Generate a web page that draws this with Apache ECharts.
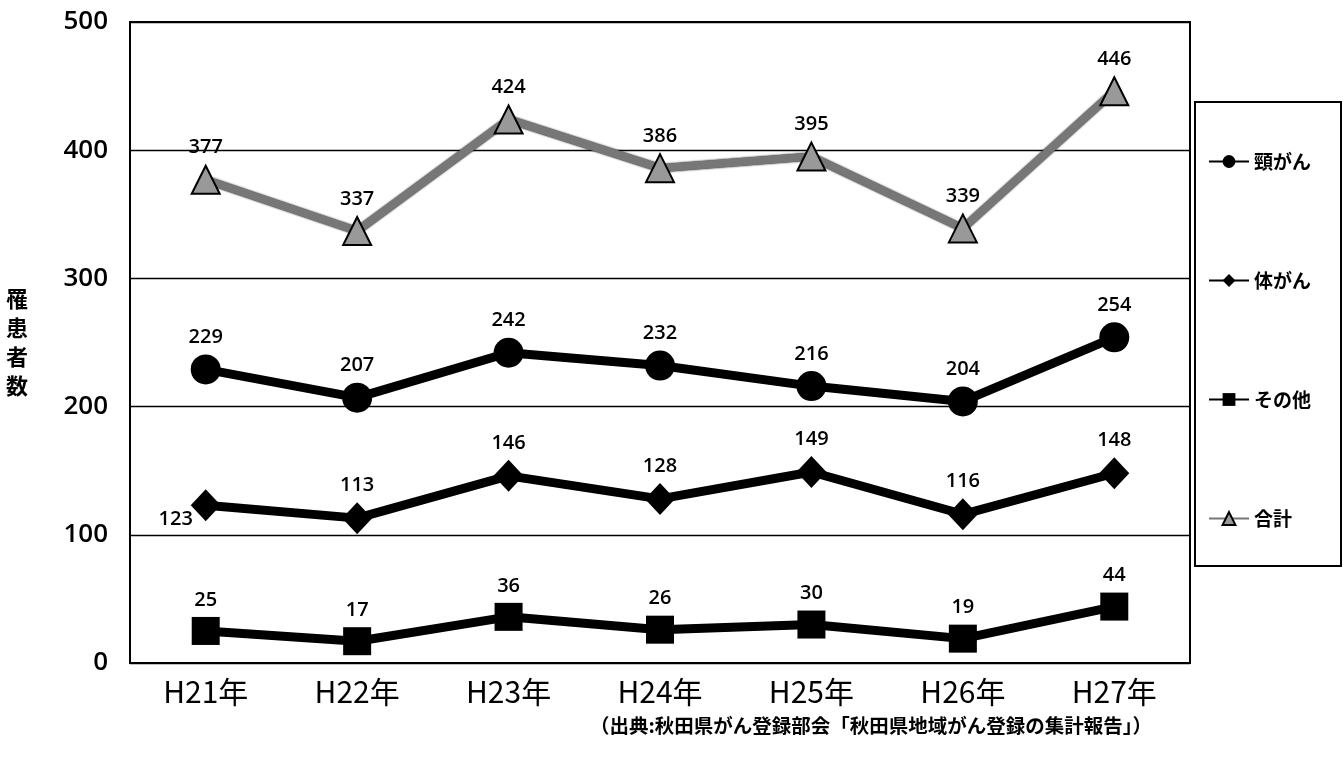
<!DOCTYPE html>
<html><head><meta charset="utf-8">
<script src="https://cdn.jsdelivr.net/npm/echarts@6/dist/echarts.min.js"></script>
<style>html,body{margin:0;padding:0;background:#fff}#c{width:1343px;height:776px}</style>
</head><body><div id="c"></div>
<script>
const categories = ['H21年','H22年','H23年','H24年','H25年','H26年','H27年'];
const keigan = [229,207,242,232,216,204,254];
const taigan = [123,113,146,128,149,116,148];
const sonota = [25,17,36,26,30,19,44];
const goukei = [377,337,424,386,395,339,446];
const yTicks = [0,100,200,300,400,500];

const FONT = '"Noto Sans CJK JP", "Noto Sans", sans-serif';
const NUMFONT = '"Open Sans", sans-serif';
const labelBase = {show:true, position:'top', color:'#000', fontSize:20, fontWeight:600, fontFamily:NUMFONT, distance:7};

const chart = echarts.init(document.getElementById('c'));
chart.setOption({
  backgroundColor:'#fff',
  animation:false,
  grid:{left:130, right:153, top:22, bottom:113, show:true, borderColor:'#000', borderWidth:2},
  legend:{
    orient:'vertical', left:1195, top:102,
    padding:[50,30,38,13], itemGap:100, itemWidth:40, itemHeight:16,
    borderColor:'#000', borderWidth:2,
    textStyle:{fontSize:19, fontWeight:'bold', color:'#000', fontFamily:FONT},
    data:['頸がん','体がん','その他','合計']
  },
  xAxis:{
    type:'category', data:categories, boundaryGap:true,
    axisLine:{lineStyle:{color:'#000', width:2}},
    axisTick:{inside:true, length:10, lineStyle:{color:'#000', width:1.5}},
    axisLabel:{color:'#000', fontSize:30, fontFamily:FONT, margin:14}
  },
  yAxis:{
    type:'value', min:yTicks[0], max:yTicks[yTicks.length-1], interval:100,
    name:'罹\n患\n者\n数', nameLocation:'middle', nameRotate:0, nameGap:102,
    nameTextStyle:{fontSize:22, fontWeight:'bold', color:'#000', fontFamily:FONT, lineHeight:29},
    axisLine:{show:false}, axisTick:{show:false},
    splitLine:{lineStyle:{color:'#000', width:1.3}},
    axisLabel:{color:'#000', fontSize:26, fontWeight:600, fontFamily:NUMFONT, margin:22}
  },
  graphic:[{
    type:'text', left:590, top:716,
    style:{text:'（出典:秋田県がん登録部会「秋田県地域がん登録の集計報告」）', fill:'#000', fontSize:19.5, fontWeight:'bold', fontFamily:FONT}
  }],
  series:[
    {name:'頸がん', type:'line', data:keigan, symbol:'circle', symbolSize:30,
     lineStyle:{color:'#000', width:9}, itemStyle:{color:'#000'}, label:labelBase},
    {name:'体がん', type:'line', data:taigan, symbol:'diamond', symbolSize:[30,32],
     lineStyle:{color:'#000', width:9}, itemStyle:{color:'#000'},
     label:Object.assign({}, labelBase),
     labelLayout:function(p){ return p.dataIndex===0 ? {dx:-30, dy:47} : {}; }},
    {name:'その他', type:'line', data:sonota, symbol:'rect', symbolSize:28,
     lineStyle:{color:'#000', width:9}, itemStyle:{color:'#000'}, label:labelBase},
    {name:'合計', type:'line', data:goukei, symbol:'triangle', symbolSize:28,
     lineStyle:{color:'#777', width:8, shadowColor:'#000', shadowBlur:2},
     itemStyle:{color:'#999', borderColor:'#000', borderWidth:2}, label:labelBase}
  ]
});
</script></body></html>
